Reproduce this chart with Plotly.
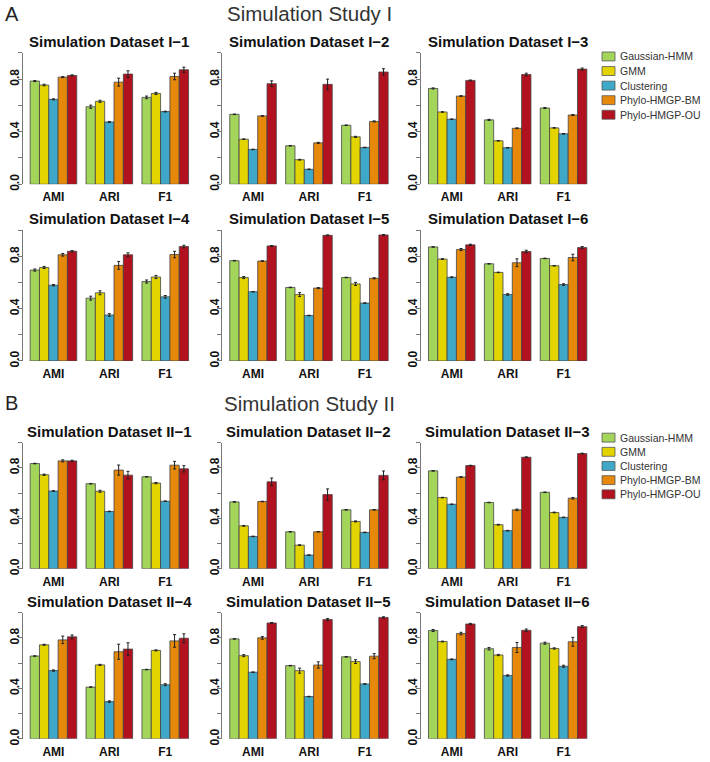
import plotly.graph_objects as go

# ---------------- data ----------------
metrics = ["AMI", "ARI", "F1"]
methods = ["Gaussian-HMM", "GMM", "Clustering", "Phylo-HMGP-BM", "Phylo-HMGP-OU"]
colors = ["#A3D55B", "#E3D400", "#3FA8C8", "#E6890A", "#B2111F"]

# each row: one method, values for AMI, ARI, F1
vals_I1 = [[0.785, 0.590, 0.661], [0.755, 0.631, 0.691], [0.646, 0.474, 0.553], [0.815, 0.777, 0.820], [0.828, 0.838, 0.871]]
errs_I1 = [[0.004, 0.012, 0.010], [0.006, 0.008, 0.008], [0.004, 0.003, 0.003], [0.004, 0.030, 0.025], [0.004, 0.025, 0.020]]
vals_I2 = [[0.532, 0.293, 0.449], [0.343, 0.187, 0.361], [0.265, 0.114, 0.280], [0.520, 0.315, 0.478], [0.765, 0.760, 0.854]]
errs_I2 = [[0.002, 0.002, 0.002], [0.002, 0.003, 0.004], [0.002, 0.002, 0.002], [0.002, 0.004, 0.004], [0.022, 0.040, 0.025]]
vals_I3 = [[0.729, 0.490, 0.580], [0.550, 0.331, 0.429], [0.495, 0.278, 0.384], [0.671, 0.426, 0.527], [0.790, 0.835, 0.876]]
errs_I3 = [[0.004, 0.004, 0.004], [0.002, 0.002, 0.002], [0.002, 0.002, 0.002], [0.003, 0.003, 0.004], [0.003, 0.010, 0.008]]
vals_I4 = [[0.696, 0.481, 0.608], [0.716, 0.522, 0.643], [0.580, 0.352, 0.491], [0.813, 0.732, 0.815], [0.840, 0.813, 0.876]]
errs_I4 = [[0.008, 0.015, 0.012], [0.008, 0.015, 0.012], [0.005, 0.010, 0.010], [0.010, 0.030, 0.025], [0.005, 0.015, 0.010]]
vals_I5 = [[0.768, 0.563, 0.639], [0.639, 0.508, 0.590], [0.530, 0.348, 0.443], [0.765, 0.558, 0.633], [0.881, 0.962, 0.965]]
errs_I5 = [[0.002, 0.002, 0.002], [0.008, 0.015, 0.012], [0.002, 0.002, 0.002], [0.003, 0.004, 0.004], [0.003, 0.003, 0.003]]
vals_I6 = [[0.873, 0.744, 0.785], [0.780, 0.678, 0.729], [0.641, 0.509, 0.585], [0.853, 0.752, 0.792], [0.889, 0.838, 0.868]]
errs_I6 = [[0.002, 0.002, 0.002], [0.003, 0.002, 0.002], [0.003, 0.006, 0.006], [0.008, 0.030, 0.025], [0.005, 0.010, 0.008]]

vals_II1 = [[0.834, 0.674, 0.729], [0.745, 0.614, 0.679], [0.616, 0.454, 0.535], [0.855, 0.782, 0.821], [0.855, 0.742, 0.792]]
errs_II1 = [[0.002, 0.002, 0.002], [0.005, 0.008, 0.005], [0.002, 0.002, 0.002], [0.008, 0.040, 0.030], [0.005, 0.030, 0.025]]
vals_II2 = [[0.530, 0.293, 0.467], [0.340, 0.187, 0.375], [0.256, 0.108, 0.288], [0.533, 0.293, 0.467], [0.689, 0.588, 0.740]]
errs_II2 = [[0.002, 0.002, 0.002], [0.003, 0.003, 0.004], [0.002, 0.002, 0.002], [0.002, 0.002, 0.002], [0.030, 0.045, 0.035]]
vals_II3 = [[0.776, 0.525, 0.606], [0.564, 0.349, 0.446], [0.511, 0.302, 0.407], [0.727, 0.467, 0.559], [0.818, 0.884, 0.913]]
errs_II3 = [[0.002, 0.002, 0.002], [0.002, 0.003, 0.003], [0.002, 0.002, 0.002], [0.003, 0.006, 0.006], [0.002, 0.003, 0.003]]
vals_II4 = [[0.656, 0.410, 0.549], [0.745, 0.586, 0.701], [0.541, 0.295, 0.429], [0.784, 0.690, 0.776], [0.808, 0.711, 0.797]]
errs_II4 = [[0.002, 0.002, 0.002], [0.004, 0.004, 0.004], [0.005, 0.006, 0.008], [0.030, 0.060, 0.050], [0.015, 0.050, 0.035]]
vals_II5 = [[0.792, 0.580, 0.650], [0.659, 0.540, 0.612], [0.528, 0.335, 0.435], [0.800, 0.585, 0.655], [0.918, 0.945, 0.962]]
errs_II5 = [[0.002, 0.002, 0.002], [0.008, 0.020, 0.015], [0.002, 0.002, 0.002], [0.010, 0.025, 0.020], [0.004, 0.008, 0.005]]
vals_II6 = [[0.858, 0.714, 0.758], [0.771, 0.664, 0.716], [0.630, 0.502, 0.575], [0.834, 0.724, 0.769], [0.910, 0.860, 0.889]]
errs_II6 = [[0.008, 0.010, 0.008], [0.003, 0.005, 0.005], [0.003, 0.005, 0.008], [0.010, 0.040, 0.035], [0.005, 0.010, 0.008]]

panel_titles = ["Simulation Dataset I\u22121", "Simulation Dataset I\u22122", "Simulation Dataset I\u22123",
                "Simulation Dataset I\u22124", "Simulation Dataset I\u22125", "Simulation Dataset I\u22126",
                "Simulation Dataset II\u22121", "Simulation Dataset II\u22122", "Simulation Dataset II\u22123",
                "Simulation Dataset II\u22124", "Simulation Dataset II\u22125", "Simulation Dataset II\u22126"]
panel_vals = [vals_I1, vals_I2, vals_I3, vals_I4, vals_I5, vals_I6,
              vals_II1, vals_II2, vals_II3, vals_II4, vals_II5, vals_II6]
panel_errs = [errs_I1, errs_I2, errs_I3, errs_I4, errs_I5, errs_I6,
              errs_II1, errs_II2, errs_II3, errs_II4, errs_II5, errs_II6]
y_ticks = [0, 0.2, 0.4, 0.6, 0.8, 1.0]
y_ticktext = ["0.0", "", "0.4", "", "0.8", ""]

# ---------------- layout geometry (pixels) ----------------
W, H = 710, 762
col_left = [22.7, 222.3, 421.0]
plot_w = 173.3
rows_px = [(53.3, 186.0), (232.5, 364.3), (446.7, 574.0), (618.3, 745.7)]
title_y_px = [41.7, 220.7, 435.0, 607.3]

FONT = "Liberation Sans, Arial, Helvetica, sans-serif"
fig = go.Figure()
annotations = []
shapes = []

for p in range(12):
    r, c = divmod(p, 3)
    ax = "" if p == 0 else str(p + 1)
    xa, ya = "x" + ax, "y" + ax
    for m in range(5):
        fig.add_trace(go.Bar(
            x=metrics, y=panel_vals[p][m], name=methods[m],
            marker=dict(color=colors[m], line=dict(color="#444444", width=0.8)),
            error_y=dict(type="data", array=panel_errs[p][m], color="#222222", thickness=1, width=1.5),
            xaxis=xa, yaxis=ya, showlegend=False,
        ))
    x0 = col_left[c]
    top, bot = rows_px[r]
    fig.layout["xaxis" + ax] = dict(
        domain=[x0 / W, (x0 + plot_w) / W], anchor=ya, range=[-0.55, 2.55],
        showline=False, ticks="", showgrid=False, zeroline=False, ticklabelstandoff=4,
        tickfont=dict(family=FONT, size=12, color="#111", weight="bold"),
    )
    fig.layout["yaxis" + ax] = dict(
        domain=[1 - bot / H, 1 - top / H], anchor=xa, range=[0, 1],
        tickvals=y_ticks, ticktext=y_ticktext, tickangle=-90,
        ticks="outside", ticklen=4, tickcolor="#777", showline=True, linecolor="#777", linewidth=1,
        showgrid=False, zeroline=False, ticklabelstandoff=-6,
        tickfont=dict(family=FONT, size=12, color="#111", weight="bold"),
    )
    annotations.append(dict(
        text="<b>" + panel_titles[p] + "</b>", xref="paper", yref="paper",
        x=(x0 + plot_w / 2) / W, y=1 - title_y_px[r] / H, xanchor="center", yanchor="middle",
        showarrow=False, font=dict(family=FONT, size=15, color="#111"),
    ))

# study headers
for label, letter, ypx in [("Simulation Study I", "A", 14), ("Simulation Study II", "B", 407)]:
    annotations.append(dict(text=label, xref="paper", yref="paper", x=309 / W, y=1 - ypx / H,
                            xanchor="center", yanchor="middle", showarrow=False,
                            font=dict(family=FONT, size=20.5, color="#333")))
    annotations.append(dict(text=letter, xref="paper", yref="paper", x=3 / W, y=1 - ypx / H,
                            xanchor="left", yanchor="middle", showarrow=False,
                            font=dict(family=FONT, size=20, color="#222")))

# legends (one per study), built from the method names and colours
for first_y, step in [(57.0, 14.7), (441.7, 14.3)]:
    for m in range(5):
        yc = first_y + m * step
        shapes.append(dict(type="rect", xref="paper", yref="paper",
                           x0=602 / W, x1=615 / W, y0=1 - (yc + 4.5) / H, y1=1 - (yc - 4.5) / H,
                           fillcolor=colors[m], line=dict(color="#555", width=0.8)))
        annotations.append(dict(text=methods[m], xref="paper", yref="paper", x=618 / W, y=1 - yc / H,
                                xanchor="left", yanchor="middle", showarrow=False,
                                font=dict(family=FONT, size=10.5, color="#333")))

fig.update_layout(
    width=W, height=H, margin=dict(l=0, r=0, t=0, b=0),
    paper_bgcolor="white", plot_bgcolor="white",
    barmode="group", bargap=1 / 6, bargroupgap=0,
    annotations=annotations, shapes=shapes, showlegend=False,
)

fig.write_html("out.html", config={"displayModeBar": False},
               post_script="document.body.style.margin='0';")
